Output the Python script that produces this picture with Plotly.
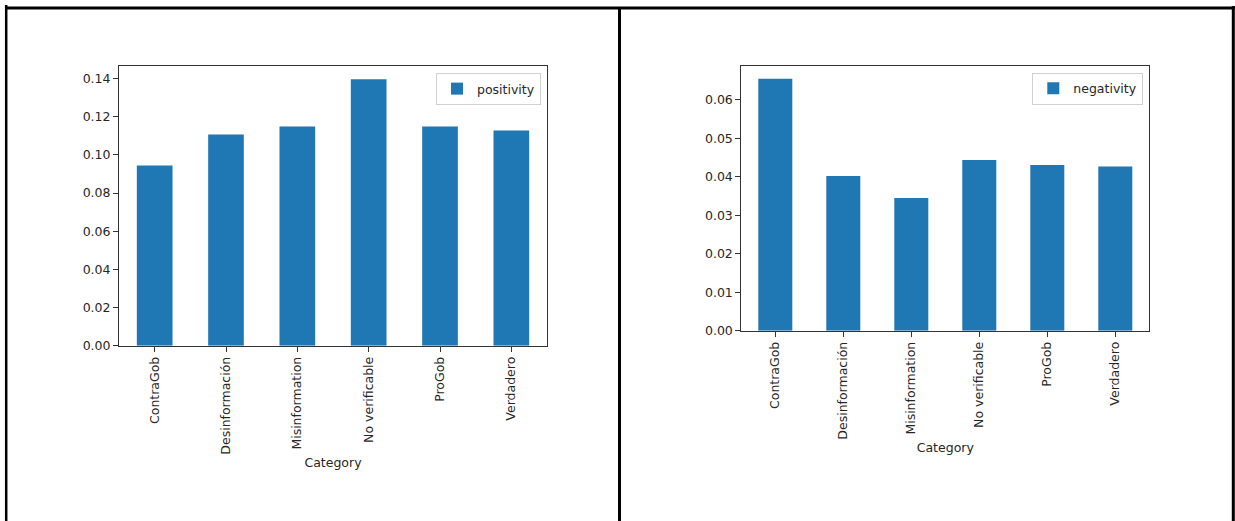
import plotly.graph_objects as go

categories = ["ContraGob", "Desinformación", "Misinformation", "No verificable", "ProGob", "Verdadero"]
positivity = [0.0944, 0.1107, 0.1149, 0.1396, 0.1149, 0.1128]
negativity = [0.0655, 0.0402, 0.0345, 0.0444, 0.0431, 0.0427]
pos_ticks = [0.00, 0.02, 0.04, 0.06, 0.08, 0.10, 0.12, 0.14]
neg_ticks = [0.00, 0.01, 0.02, 0.03, 0.04, 0.05, 0.06]

W, H = 1235, 521
BAR = "#1f77b4"
FONT = "DejaVu Sans"
TXT = "#262626"
LINE = "#333333"


def fx(x):
    return x / W


def fy(y):
    return 1 - y / H


fig = go.Figure()
fig.add_trace(go.Bar(x=categories, y=positivity, name="positivity", marker_color=BAR,
                     marker_line_width=0, width=0.5, xaxis="x", yaxis="y", legend="legend",
                     showlegend=True))
fig.add_trace(go.Bar(x=categories, y=negativity, name="negativity", marker_color=BAR,
                     marker_line_width=0, width=0.5, xaxis="x2", yaxis="y2", legend="legend2",
                     showlegend=True))

common_x = dict(type="category", range=[-0.5, 5.5], tickangle=-90, ticks="outside", ticklen=5,
                tickcolor=LINE, showline=True, linecolor=LINE, linewidth=1, mirror=True,
                showgrid=False, zeroline=False, tickfont=dict(family=FONT, size=12.5, color=TXT),
                title=dict(text="Category", font=dict(family=FONT, size=12.5, color=TXT), standoff=4),
                automargin=False)
common_y = dict(ticks="outside", ticklen=5, tickcolor=LINE, showline=True, linecolor=LINE,
                linewidth=1, mirror=True, showgrid=False, zeroline=False,
                tickfont=dict(family=FONT, size=12.5, color=TXT), automargin=False)

fig.update_layout(
    width=W, height=H, margin=dict(l=0, r=0, t=0, b=0),
    paper_bgcolor="white", plot_bgcolor="white",
    font=dict(family=FONT, size=12.5, color=TXT),
    xaxis=dict(domain=[fx(119), fx(547)], anchor="y", **common_x),
    yaxis=dict(domain=[fy(345.7), fy(66)], anchor="x", range=[0, 0.1466],
               tickvals=pos_ticks, ticktext=[f"{v:.2f}" for v in pos_ticks], **common_y),
    xaxis2=dict(domain=[fx(741.3), fx(1149.3)], anchor="y2", **common_x),
    yaxis2=dict(domain=[fy(330.7), fy(66)], anchor="x2", range=[0, 0.0688],
                tickvals=neg_ticks, ticktext=[f"{v:.2f}" for v in neg_ticks], **common_y),
    legend=dict(x=fx(541), xanchor="right", y=fy(73), yanchor="top", bgcolor="white",
                bordercolor="#d0d0d0", borderwidth=1, font=dict(family=FONT, size=12.5, color=TXT)),
    legend2=dict(x=fx(1143.3), xanchor="right", y=fy(72.7), yanchor="top", bgcolor="white",
                 bordercolor="#d0d0d0", borderwidth=1, font=dict(family=FONT, size=12.5, color=TXT)),
    bargap=0.5,
)

# notebook cell borders
borders = [
    (5, fy(8), W, fy(8), 3),
    (6.2, fy(5), 6.2, fy(H), 2.5),
    (619.5, fy(8), 619.5, fy(H), 3),
    (1233.3, fy(6), 1233.3, fy(H), 3),
]
for x0, y0, x1, y1, w in borders:
    fig.add_shape(type="line", xref="paper", yref="paper", x0=fx(x0), x1=fx(x1), y0=y0, y1=y1,
                  line=dict(color="black", width=w))

fig.write_html("out.html", config={"displayModeBar": False},
               post_script="document.body.style.margin='0';document.body.style.overflow='hidden';")
